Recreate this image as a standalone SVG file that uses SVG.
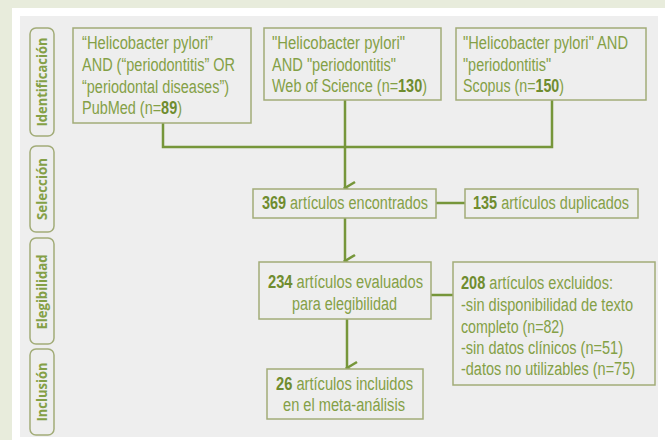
<svg xmlns="http://www.w3.org/2000/svg" width="665" height="440" viewBox="0 0 665 440">
  <style>
    .box { fill: #eeeeee; stroke: #a2ac78; stroke-width: 1.5; }
    .tab { fill: #eeeeee; stroke: #a2ac78; stroke-width: 1.5; }
    .t { font-family: "Liberation Sans Narrow", "Liberation Sans", Arial, sans-serif; font-size: 18px; fill: #84a046; }
    .t .b { font-weight: bold; fill: #6f8c2f; }
    .tabt { font-family: "Open Sans", "DejaVu Sans", sans-serif; font-weight: bold; font-size: 14px; fill: #84a046; }
    .wire { fill: none; stroke: #76963a; stroke-width: 2.5; }
  </style>
  <defs>
    <marker id="chev" markerUnits="userSpaceOnUse" markerWidth="16" markerHeight="14" refX="8" refY="12" orient="auto-start-reverse" viewBox="0 0 16 14">
      <path d="M2,2 L8,12 L14,2" fill="none" stroke="#76963a" stroke-width="2.6"/>
    </marker>
  </defs>

  <!-- page background and panel -->
  <rect x="0" y="0" width="665" height="440" fill="#e8ecdc"/>
  <rect x="12" y="8" width="653" height="432" fill="#ffffff"/>
  <rect x="20" y="16" width="638" height="421" fill="#eeeeee"/>

  <!-- stage tabs -->
  <g id="tab-identificacion">
    <rect class="tab" x="30" y="28" width="24" height="108" rx="6"/>
    <text class="tabt" transform="translate(47,82) rotate(-90)" text-anchor="middle" textLength="89" lengthAdjust="spacingAndGlyphs">Identificación</text>
  </g>
  <g id="tab-seleccion">
    <rect class="tab" x="30" y="146" width="24" height="86" rx="6"/>
    <text class="tabt" transform="translate(47,189) rotate(-90)" text-anchor="middle" textLength="62" lengthAdjust="spacingAndGlyphs">Selección</text>
  </g>
  <g id="tab-elegibilidad">
    <rect class="tab" x="30" y="238" width="24" height="106" rx="6"/>
    <text class="tabt" transform="translate(47,292) rotate(-90)" text-anchor="middle" textLength="75" lengthAdjust="spacingAndGlyphs">Elegibilidad</text>
  </g>
  <g id="tab-inclusion">
    <rect class="tab" x="30" y="349" width="24" height="86" rx="6"/>
    <text class="tabt" transform="translate(47,392) rotate(-90)" text-anchor="middle" textLength="59" lengthAdjust="spacingAndGlyphs">Inclusión</text>
  </g>

  <!-- connectors -->
  <g id="connectors">
    <polyline class="wire" points="163,123 163,147 552,147 552,100"/>
    <line class="wire" x1="345" y1="100" x2="345" y2="188" marker-end="url(#chev)"/>
    <line class="wire" x1="436" y1="203" x2="465" y2="203"/>
    <line class="wire" x1="345" y1="218" x2="345" y2="261" marker-end="url(#chev)"/>
    <line class="wire" x1="431" y1="295" x2="453" y2="295"/>
    <line class="wire" x1="347" y1="319" x2="347" y2="368" marker-end="url(#chev)"/>
  </g>

  <!-- search sources -->
  <g id="pubmed">
    <rect class="box" x="73" y="28" width="178" height="95"/>
    <text class="t" x="82" y="49" textLength="131" lengthAdjust="spacingAndGlyphs">“Helicobacter pylori”</text>
    <text class="t" x="82" y="71" textLength="153" lengthAdjust="spacingAndGlyphs">AND (“periodontitis” OR</text>
    <text class="t" x="82" y="93" textLength="147" lengthAdjust="spacingAndGlyphs">“periodontal diseases”)</text>
    <text class="t" x="82" y="114" textLength="100" lengthAdjust="spacingAndGlyphs">PubMed (n=<tspan class="b">89</tspan>)</text>
  </g>
  <g id="wos">
    <rect class="box" x="264" y="28" width="177" height="72"/>
    <text class="t" x="272" y="49" textLength="133" lengthAdjust="spacingAndGlyphs">"Helicobacter pylori"</text>
    <text class="t" x="272" y="71" textLength="124" lengthAdjust="spacingAndGlyphs">AND "periodontitis"</text>
    <text class="t" x="272" y="92" textLength="155" lengthAdjust="spacingAndGlyphs">Web of Science (n=<tspan class="b">130</tspan>)</text>
  </g>
  <g id="scopus">
    <rect class="box" x="456" y="28" width="190" height="72"/>
    <text class="t" x="463" y="49" textLength="165" lengthAdjust="spacingAndGlyphs">"Helicobacter pylori" AND</text>
    <text class="t" x="463" y="71" textLength="88" lengthAdjust="spacingAndGlyphs">"periodontitis"</text>
    <text class="t" x="463" y="92" textLength="101" lengthAdjust="spacingAndGlyphs">Scopus (n=<tspan class="b">150</tspan>)</text>
  </g>

  <!-- screening -->
  <g id="encontrados">
    <rect class="box" x="253" y="189" width="183" height="29"/>
    <text class="t" x="262" y="209" textLength="166" lengthAdjust="spacingAndGlyphs"><tspan class="b">369</tspan> artículos encontrados</text>
  </g>
  <g id="duplicados">
    <rect class="box" x="465" y="189" width="173" height="29"/>
    <text class="t" x="473" y="209" textLength="156" lengthAdjust="spacingAndGlyphs"><tspan class="b">135</tspan> artículos duplicados</text>
  </g>

  <!-- eligibility -->
  <g id="evaluados">
    <rect class="box" x="259" y="262" width="172" height="57"/>
    <text class="t" x="268" y="288" textLength="155" lengthAdjust="spacingAndGlyphs"><tspan class="b">234</tspan> artículos evaluados</text>
    <text class="t" x="292" y="310" textLength="105" lengthAdjust="spacingAndGlyphs">para elegibilidad</text>
  </g>
  <g id="excluidos">
    <rect class="box" x="453" y="262" width="202" height="123"/>
    <text class="t" x="461" y="289" textLength="152" lengthAdjust="spacingAndGlyphs"><tspan class="b">208</tspan> artículos excluidos:</text>
    <text class="t" x="461" y="311" textLength="172" lengthAdjust="spacingAndGlyphs">-sin disponibilidad de texto</text>
    <text class="t" x="461" y="333" textLength="103" lengthAdjust="spacingAndGlyphs">completo (n=82)</text>
    <text class="t" x="461" y="354" textLength="162" lengthAdjust="spacingAndGlyphs">-sin datos clínicos (n=51)</text>
    <text class="t" x="461" y="375" textLength="174" lengthAdjust="spacingAndGlyphs">-datos no utilizables (n=75)</text>
  </g>

  <!-- inclusion -->
  <g id="incluidos">
    <rect class="box" x="267" y="369" width="156" height="50"/>
    <text class="t" x="276" y="390" textLength="137" lengthAdjust="spacingAndGlyphs"><tspan class="b">26</tspan> artículos incluidos</text>
    <text class="t" x="283" y="411" textLength="122" lengthAdjust="spacingAndGlyphs">en el meta-análisis</text>
  </g>
</svg>
